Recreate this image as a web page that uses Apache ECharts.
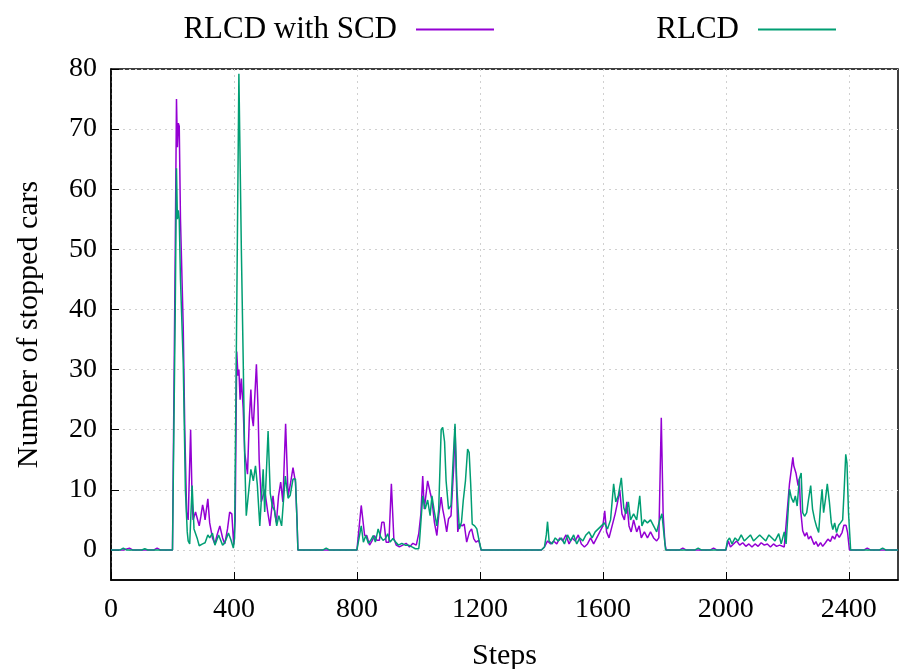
<!DOCTYPE html>
<html>
<head>
<meta charset="utf-8">
<script src="https://cdn.jsdelivr.net/npm/echarts@6/dist/echarts.min.js"></script>
<style>html,body{margin:0;padding:0;background:#fff;}#c{width:899px;height:669px;}</style>
</head>
<body>
<div id="c"></div>
<script>
const seriesNames = ['RLCD with SCD', 'RLCD'];
const xTicks = [0, 400, 800, 1200, 1600, 2000, 2400];
const yTicks = [0, 10, 20, 30, 40, 50, 60, 70, 80];

const stepsSCD = [0,40,60,70,140,150,160,200,205,209,213,216,219,222,226,235,240,246,251,259,264,267,275,280,287,292,298,302,306,315,321,330,338,345,354,363,370,379,386,393,399,404,409,413,416,420,424,430,435,444,450,455,459,463,473,478,482,489,500,509,517,527,533,538,545,552,559,568,576,583,592,600,605,608,700,705,710,800,803,814,825,832,841,850,857,865,873,881,888,895,904,912,920,928,938,949,960,971,982,993,1001,1008,1014,1019,1030,1038,1044,1052,1060,1066,1074,1079,1085,1092,1098,1106,1115,1119,1128,1133,1142,1149,1157,1166,1173,1180,1187,1196,1204,1400,1410,1420,1430,1440,1450,1460,1470,1480,1490,1500,1510,1520,1530,1540,1550,1560,1570,1580,1590,1600,1606,1612,1620,1630,1640,1648,1655,1662,1670,1678,1685,1692,1700,1710,1718,1725,1735,1745,1755,1765,1775,1782,1790,1796,1802,1806,1850,1860,1870,1950,1960,1970,2000,2008,2015,2025,2035,2045,2055,2065,2075,2085,2095,2105,2115,2125,2135,2145,2155,2165,2175,2190,2196,2207,2218,2221,2228,2235,2239,2243,2250,2257,2263,2269,2276,2287,2293,2300,2308,2315,2324,2332,2340,2347,2354,2361,2369,2378,2384,2391,2396,2402,2450,2460,2470,2560];
const valuesSCD = [0,0,0.3,0,0,0.3,0,0,0,50,75,67,71,70.5,55,37,20,6.3,5,20,8,5,6.3,6,4,5.5,7.5,6.5,5,8.5,4.5,2,1,2.5,4,2,1,3.5,6.3,6,1,5,33,29,30,25,28.5,23.5,16.2,12.6,22,26.7,22,20.6,30.9,24,15,8,10,6.6,4,9,6,4.6,9,11.3,8,21,9,10.8,13.7,11.3,5,0,0,0.3,0,0,0.3,7.4,2.4,2.4,0.8,1.6,2.4,1.6,1.6,4.6,4.6,1.3,1.3,11,1.9,0.8,0.5,0.8,1.1,0.5,1.1,0.8,2.7,6,12.3,6.8,11.5,9.6,8.3,4.6,2.4,5.7,8.8,6.8,5.2,3,5.2,5.7,14,20.5,3,4.3,4,4.3,1.3,3,3.5,1.9,1.3,1.6,0,0,0.5,1.5,1,1.5,1,2,1.5,2.5,1,2,1.5,2.5,1,0.5,1,2,1,2,3,4,6.5,3,2,4,6,8,10,6,5,8,4,3,5,3,4,2,3,2,3,2,1.5,2,22,6,1,0,0,0.3,0,0,0.3,0,0,1.5,0.5,1,1.5,0.8,1.2,0.6,1,0.5,1,0.6,1.2,0.8,1,0.5,1,0.6,0.8,0.5,0.8,11,15.4,14,12.8,10.7,11.8,6.8,3.2,2.3,2.9,1.8,2.3,0.9,1.4,0.6,1.2,0.6,1.2,1.8,1.4,2.3,1.8,2.7,2.1,2.9,4.1,4.1,2.9,0,0,0.3,0,0];

const stepsRLCD = [0,30,40,50,100,110,120,200,204,209,213,216,219,222,226,235,242,248,251,256,260,264,270,280,287,298,306,315,321,330,338,350,363,370,382,390,398,402,409,416,424,430,435,440,446,455,463,470,476,484,495,500,511,518,525,532,539,546,555,567,576,583,592,600,605,608,690,700,710,800,803,814,821,829,837,845,853,860,869,877,885,893,900,908,917,926,935,946,957,968,979,990,1001,1003,1014,1022,1030,1038,1044,1052,1060,1066,1074,1079,1085,1090,1098,1106,1112,1119,1125,1133,1140,1146,1153,1160,1165,1170,1175,1183,1190,1196,1204,1400,1410,1416,1420,1425,1435,1445,1455,1465,1475,1485,1495,1505,1515,1525,1535,1545,1555,1565,1575,1585,1595,1605,1615,1625,1635,1642,1650,1660,1668,1675,1683,1690,1700,1710,1720,1727,1735,1745,1755,1765,1775,1785,1792,1798,1804,1900,1910,1920,2000,2005,2012,2020,2030,2040,2050,2060,2070,2080,2090,2100,2110,2120,2130,2140,2150,2160,2172,2180,2190,2196,2207,2213,2220,2226,2232,2239,2245,2250,2256,2263,2269,2276,2282,2289,2295,2302,2308,2313,2318,2324,2330,2337,2343,2348,2354,2360,2367,2373,2380,2385,2390,2394,2399,2406,2500,2510,2520,2560];
const valuesRLCD = [0,0,0.3,0,0,0.2,0,0,0,40,63.5,55,56.5,55,45,31,10,3,1.5,1,6,10.7,3.5,2,0.7,1,1.2,2.5,2,2.8,0.8,2.5,0.8,1.2,2.8,1.7,0.3,2,40,79.2,50,31.7,15,5.7,5.7,13.4,11.5,14,10.8,4,13.4,6.3,19.8,9.4,7.2,6.6,4,5.7,4,12.3,8.6,9.1,11.8,11.8,5,0,0,0.3,0,0,0.3,4,1.3,2.4,1.1,1.6,2.4,1.3,3.5,2.2,1.6,1.9,2.7,1.3,1.9,1.3,0.8,1.1,0.8,0.8,0.5,0.2,0.2,1,9,6.8,8.3,5.7,9,6.3,4,6.8,20,20.4,18,11.5,6.8,7.4,14,21,10.5,3.5,4.6,8.3,11.5,16.8,16.2,11,4.3,4,3.5,1.9,0,0,0.5,2.5,4.7,1.5,1,2,1.5,2,1,2.5,1.5,2.5,1,2,1.5,2.5,3,2,3,3.5,4,4.5,3.5,5,11,8,9,12,7,6,8,5,6,5,9,4,5,4.5,5,4,3,5,6,3,0,0,0.3,0,0,1.5,2,1,2,1.5,2.5,1.5,2,2.5,1.5,2,2.5,2,1.5,2.5,2,1.5,2.7,1,3,1,10.1,8.7,7.9,9,7.3,11.8,12.8,6.2,5.6,6.2,8.4,10.7,6.8,5,3.9,2.9,7.3,10.1,6.2,8.4,11,7.9,4.5,3.4,4.5,2.9,4.1,4.5,5,10.1,15.9,14.5,6.2,0,0,0.3,0,0];

const pairs = (xs, ys) => xs.map((x, i) => [x, ys[i]]);
const FONT = 'Liberation Serif';
const legendText = {fontFamily: FONT, fontSize: 31, color: '#000', padding: [0, 14, 0, 0]};

const chart = echarts.init(document.getElementById('c'), null, {renderer: 'canvas'});
chart.setOption({
  animation: false,
  backgroundColor: '#fff',
  textStyle: {fontFamily: FONT},
  legend: [
    {data: [seriesNames[0]], right: 400, top: 9, align: 'right', icon: 'rect', itemWidth: 78, itemHeight: 2,
     textStyle: legendText},
    {data: [seriesNames[1]], right: 58, top: 9, align: 'right', icon: 'rect', itemWidth: 78, itemHeight: 2,
     textStyle: legendText}
  ],
  grid: {left: 111, right: 1, top: 69, bottom: 89, show: true, borderColor: '#000', borderWidth: 1.5,
         containLabel: false, outerBoundsMode: 'none'},
  xAxis: {
    type: 'value', min: 0, max: 2560,
    name: 'Steps', nameLocation: 'middle', nameGap: 61,
    nameTextStyle: {fontFamily: FONT, fontSize: 30, color: '#000'},
    axisLine: {show: true, onZero: false, lineStyle: {color: '#000', width: 1.5}},
    axisTick: {show: true, inside: true, length: 8, customValues: xTicks, lineStyle: {color: '#000'}},
    axisLabel: {customValues: xTicks, fontFamily: FONT, fontSize: 28, color: '#000', margin: 16,
                formatter: v => String(v)},
    splitLine: {show: true, lineStyle: {type: [2, 4], color: '#d0d0d0', width: 1}}
  },
  yAxis: {
    type: 'value', min: -5, max: 80,
    name: 'Number of stopped cars', nameLocation: 'middle', nameGap: 67, nameRotate: 90,
    nameTextStyle: {fontFamily: FONT, fontSize: 30, color: '#000'},
    axisLine: {show: true, onZero: false, lineStyle: {color: '#000', width: 1.5}},
    axisTick: {show: true, inside: true, length: 8, customValues: yTicks, lineStyle: {color: '#000'}},
    axisLabel: {customValues: yTicks, fontFamily: FONT, fontSize: 28, color: '#000', margin: 14,
                formatter: v => String(v)},
    splitLine: {show: true, lineStyle: {type: [2, 4], color: '#d0d0d0', width: 1}}
  },
  series: [
    {name: seriesNames[0], type: 'line', data: pairs(stepsSCD, valuesSCD), showSymbol: false, symbol: 'none',
     color: '#9400D3', lineStyle: {width: 1.5, color: '#9400D3'}, z: 2},
    {name: seriesNames[1], type: 'line', data: pairs(stepsRLCD, valuesRLCD), showSymbol: false, symbol: 'none',
     color: '#009E73', lineStyle: {width: 1.5, color: '#009E73'}, z: 3}
  ]
});
</script>
</body>
</html>
